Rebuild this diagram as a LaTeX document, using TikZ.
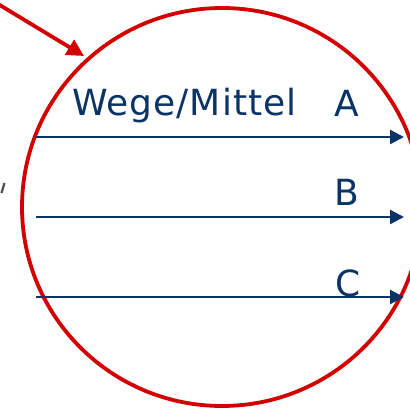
\documentclass[tikz,border=0pt]{standalone}
\usepackage{fontspec}
\setmainfont{DejaVu Sans}
\usetikzlibrary{arrows.meta}
\definecolor{navy}{RGB}{10,52,102}
\definecolor{ringred}{RGB}{210,0,0}
\tikzset{
  blueflow/.style={draw=navy, line width=2.4pt, -{Triangle[length=14pt,width=14pt]}},
  redpointer/.style={draw=ringred, line width=3.8pt, -{Triangle[length=17pt,width=17pt]}},
  ring/.style={draw=ringred, line width=3.8pt},
  bigtxt/.style={text=navy, font=\fontsize{36}{40}\selectfont, inner sep=0pt}
}
\begin{document}
\begin{tikzpicture}[x=1pt,y=-1pt]
\useasboundingbox (0,0) rectangle (410,409);
\clip (0,0) rectangle (410,409);
\fill[white] (0,0) rectangle (410,409);
% ring
\draw[ring] (222,207) ellipse [x radius=200, y radius=199];
% pointer arrow
\coordinate (pstart) at (-2,4);
\coordinate (ptip) at (84,56);
\draw[redpointer] (pstart) -- (ptip);
% stray mark at left
\draw[gray!60!black, line width=2.2pt] (1.5,193) -- (4.5,183);
% flows
\coordinate (a0) at (36,137); \coordinate (a1) at (404,137);
\coordinate (b0) at (36,217); \coordinate (b1) at (404,217);
\coordinate (c0) at (36,297); \coordinate (c1) at (404,297);
\draw[blueflow] (a0) -- (a1);
\draw[blueflow] (b0) -- (b1);
\draw[blueflow] (c0) -- (c1);
% labels
\node[bigtxt, anchor=base west] (title) at (72,116) {\addfontfeature{LetterSpace=2.8}Wege/Mittel};
\node[bigtxt, anchor=base] (la) at (347,117) {A};
\node[bigtxt, anchor=base] (lb) at (347,206) {B};
\node[bigtxt, anchor=base] (lc) at (348,296) {C};
\end{tikzpicture}
\end{document}
